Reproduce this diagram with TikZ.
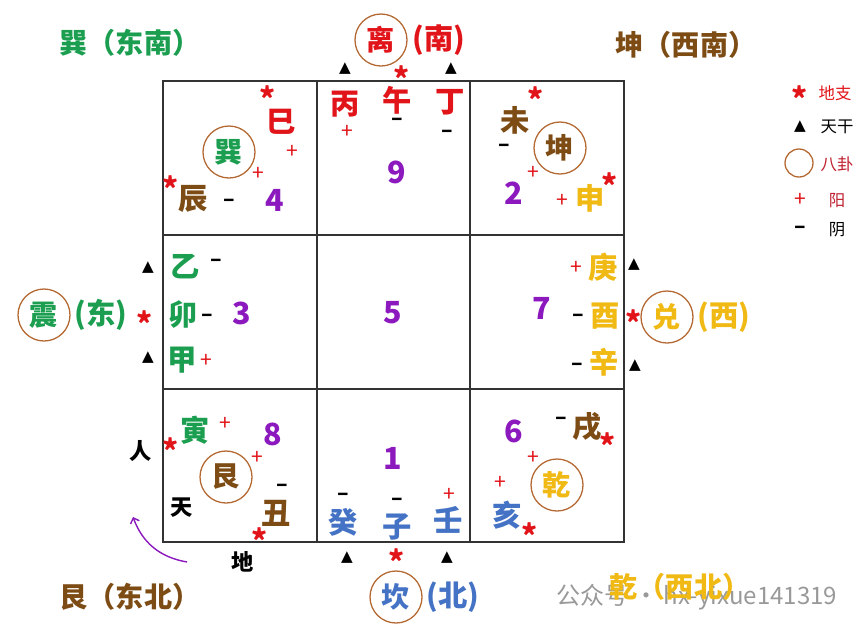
\documentclass[tikz,border=0pt]{standalone}
\usepackage{fontspec}
\setmainfont{Noto Sans CJK SC}
\newfontfamily\symf{DejaVu Sans}
\usetikzlibrary{positioning, arrows.meta}
\definecolor{mygreen}{RGB}{27,158,80}
\definecolor{myred}{RGB}{225,20,25}
\definecolor{mydred}{RGB}{190,30,45}
\definecolor{mybrown}{RGB}{125,75,20}
\definecolor{mygold}{RGB}{240,185,20}
\definecolor{myblue}{RGB}{68,114,196}
\definecolor{mypurple}{RGB}{140,25,190}
\definecolor{mycircle}{RGB}{180,105,50}

\begin{document}
\begin{tikzpicture}[x=0.03cm, y=-0.03cm, semithick, hz/.style={font=\bfseries\fontsize{25}{25}\selectfont, inner sep=0pt}, title/.style={font=\bfseries\fontsize{24}{24}\selectfont}, num/.style={text=mypurple, font=\bfseries\fontsize{26}{26}\selectfont, inner sep=0pt}, plus/.style={text=myred, font=\fontsize{18}{18}\selectfont, inner sep=0pt}, minus/.style={font=\bfseries\fontsize{18}{18}\selectfont, inner sep=0pt}, star/.style={text=myred, font=\bfseries\fontsize{26}{26}\selectfont, inner sep=0pt, yshift=-4pt}, tri/.style={font=\symf\fontsize{13}{13}\selectfont, inner sep=0pt}, blk/.style={font=\bfseries\fontsize{19}{19}\selectfont, inner sep=0pt}, lg/.style={font=\fontsize{14}{14}\selectfont, inner sep=0pt}, gua/.style={draw=mycircle, circle, line width=1.1pt, minimum size=1.56cm, inner sep=0pt, font=\bfseries\fontsize{24}{24}\selectfont}]
	\useasboundingbox (0,0) rectangle (865,632);

	\draw[black!80, line width=1.1pt] (163,81) rectangle (624,542);
	\draw[black!80, line width=1.1pt] (317,81) -- (317,542);
	\draw[black!80, line width=1.1pt] (470,81) -- (470,542);
	\draw[black!80, line width=1.1pt] (163,235) -- (624,235);
	\draw[black!80, line width=1.1pt] (163,389) -- (624,389);

	\node[text=black!40, font=\fontsize{20.5}{20.5}\selectfont] (wm) at (697,597) {公众号 · hx-yixue141319};

	\node[title, text=mygreen] (xunT) at (130,43) {巽（东南）};
	\node[title, text=mybrown] (kunT) at (686,45) {坤（西南）};
	\node[title, text=mybrown] (genT) at (130,597) {艮（东北）};
	\node[title, text=mygold] (qianT) at (680,587) {乾（西北）};

	\node[gua, text=myred] (li) at (381,40) {离};
	\node[hz, text=myred] (liD) [right=4pt of li] {(南)};
	\node[gua, text=mygreen] (zhen) at (44,315) {震};
	\node[hz, text=mygreen] (zhenD) [right=3pt of zhen] {(东)};
	\node[star] (zhenS) at (145,318) {*};
	\node[gua, text=mygold] (dui) at (667,317) {兑};
	\node[hz, text=mygold] (duiD) [right=3pt of dui] {(西)};
	\node[star] (duiS) at (634,317) {*};
	\node[gua, text=myblue] (kan) at (396,597) {坎};
	\node[hz, text=myblue] (kanD) [right=3pt of kan] {(北)};
	\node[star] (kanS) at (397,556) {*};

	\node[gua, text=mygreen] (xun) at (229,152) {巽};
	\node[star] (siS) at (268,93) {*};
	\node[hz, text=myred] (si) at (281,122) {巳};
	\node[plus] (siP) at (292,152) {+};
	\node[plus] (xunP) at (258,174) {+};
	\node[star] (chenS) at (171,183) {*};
	\node[hz, text=mybrown] (chen) at (193,199) {辰};
	\node[minus] (chenM) at (229,203) {–};
	\node[num] (n4) at (275,200) {4};

	\node[tri] (bingT) at (345,69) {▲};
	\node[star] (wuS) at (402,73) {*};
	\node[tri] (dingT) at (451,69) {▲};
	\node[hz, text=myred] (bing) at (345,104) {丙};
	\node[plus] (bingP) at (347,132) {+};
	\node[hz, text=myred] (wu) at (397,100) {午};
	\node[minus] (wuM) at (397,122) {–};
	\node[hz, text=myred] (ding) at (450,102) {丁};
	\node[minus] (dingM) at (447,134) {–};
	\node[num] (n9) at (397,172) {9};

	\node[gua, text=mybrown] (kun) at (560,148) {坤};
	\node[hz, text=mybrown] (wei) at (515,120) {未};
	\node[star] (weiS) at (536,94) {*};
	\node[minus] (weiM) at (504,148) {–};
	\node[plus] (kunP) at (533,173) {+};
	\node[num] (n2) at (514,193) {2};
	\node[plus] (shenP) at (562,201) {+};
	\node[hz, text=mygold] (shen) at (590,198) {申};
	\node[star] (shenS) at (610,180) {*};

	\node[tri] (yiT) at (148,268) {▲};
	\node[hz, text=mygreen] (yi) at (185,267) {乙};
	\node[minus] (yiM) at (216,263) {–};
	\node[hz, text=mygreen] (mao) at (183,315) {卯};
	\node[minus] (maoM) at (207,318) {–};
	\node[num] (n3) at (242,313) {3};
	\node[tri] (jiaT) at (148,358) {▲};
	\node[hz, text=mygreen] (jia) at (182,360) {甲};
	\node[plus] (jiaP) at (206,361) {+};

	\node[num] (n5) at (393,313) {5};

	\node[plus] (gengP) at (576,268) {+};
	\node[hz, text=mygold] (geng) at (603,267) {庚};
	\node[tri] (gengT) at (634,265) {▲};
	\node[num] (n7) at (542,308) {7};
	\node[minus] (youM) at (578,318) {–};
	\node[hz, text=mygold] (you) at (605,316) {酉};
	\node[minus] (xinM) at (577,367) {–};
	\node[hz, text=mygold] (xin) at (604,362) {辛};
	\node[tri] (xinT) at (635,366) {▲};

	\node[gua, text=mybrown] (gen) at (226,477) {艮};
	\node[hz, text=mygreen] (yin) at (195,430) {寅};
	\node[plus] (yinP) at (225,424) {+};
	\node[star] (yinS) at (171,445) {*};
	\node[num] (n8) at (273,434) {8};
	\node[blk] (ren) at (141,451) {人};
	\node[plus] (genP) at (257,458) {+};
	\node[blk] (tian) at (182,508) {天};
	\node[minus] (chouM) at (282,488) {–};
	\node[hz, text=mybrown] (chou) at (276,513) {丑};
	\node[star] (chouS) at (260,535) {*};
	\node[blk] (di) at (243,562) {地};
	\coordinate (arrS) at (187,562);
	\coordinate (arrE) at (133,517);
	\draw[-{Straight Barb[length=4pt, width=8pt]}, mypurple, line width=1.2pt] (arrS) to[bend left=30] (arrE);

	\node[num] (n1) at (393,458) {1};
	\node[minus] (guiM) at (343,497) {–};
	\node[hz, text=myblue] (gui) at (343,522) {癸};
	\node[minus] (ziM) at (397,502) {–};
	\node[hz, text=myblue] (zi) at (397,527) {子};
	\node[plus] (renP) at (449,495) {+};
	\node[hz, text=myblue] (rens) at (448,520) {壬};
	\node[tri] (guiT) at (347,558) {▲};
	\node[tri] (renT) at (447,558) {▲};

	\node[gua, text=mygold] (qian) at (557,485) {乾};
	\node[num] (n6) at (514,431) {6};
	\node[minus] (xuM) at (561,421) {–};
	\node[hz, text=mybrown] (xu) at (587,427) {戌};
	\node[star] (xuS) at (608,440) {*};
	\node[plus] (qianP) at (533,458) {+};
	\node[plus] (haiP) at (500,483) {+};
	\node[hz, text=myblue] (hai) at (507,515) {亥};
	\node[star] (haiS) at (530,530) {*};

	\node[star] (lgS) at (800,93) {*};
	\node[lg, text=myred] (lgST) at (835,93) {地支};
	\node[tri] (lgT) at (800,127) {▲};
	\node[lg] (lgTT) at (837,127) {天干};
	\node[draw=mycircle, circle, line width=1.1pt, minimum size=0.84cm] (lgC) at (799,163) {};
	\node[lg, text=mydred] (lgCT) at (837,164) {八卦};
	\node[plus] (lgP) at (800,200) {+};
	\node[lg, text=mydred] (lgPT) at (837,201) {阳};
	\node[minus] (lgM) at (800,230) {–};
	\node[lg] (lgMT) at (837,230) {阴};
\end{tikzpicture}
\end{document}
